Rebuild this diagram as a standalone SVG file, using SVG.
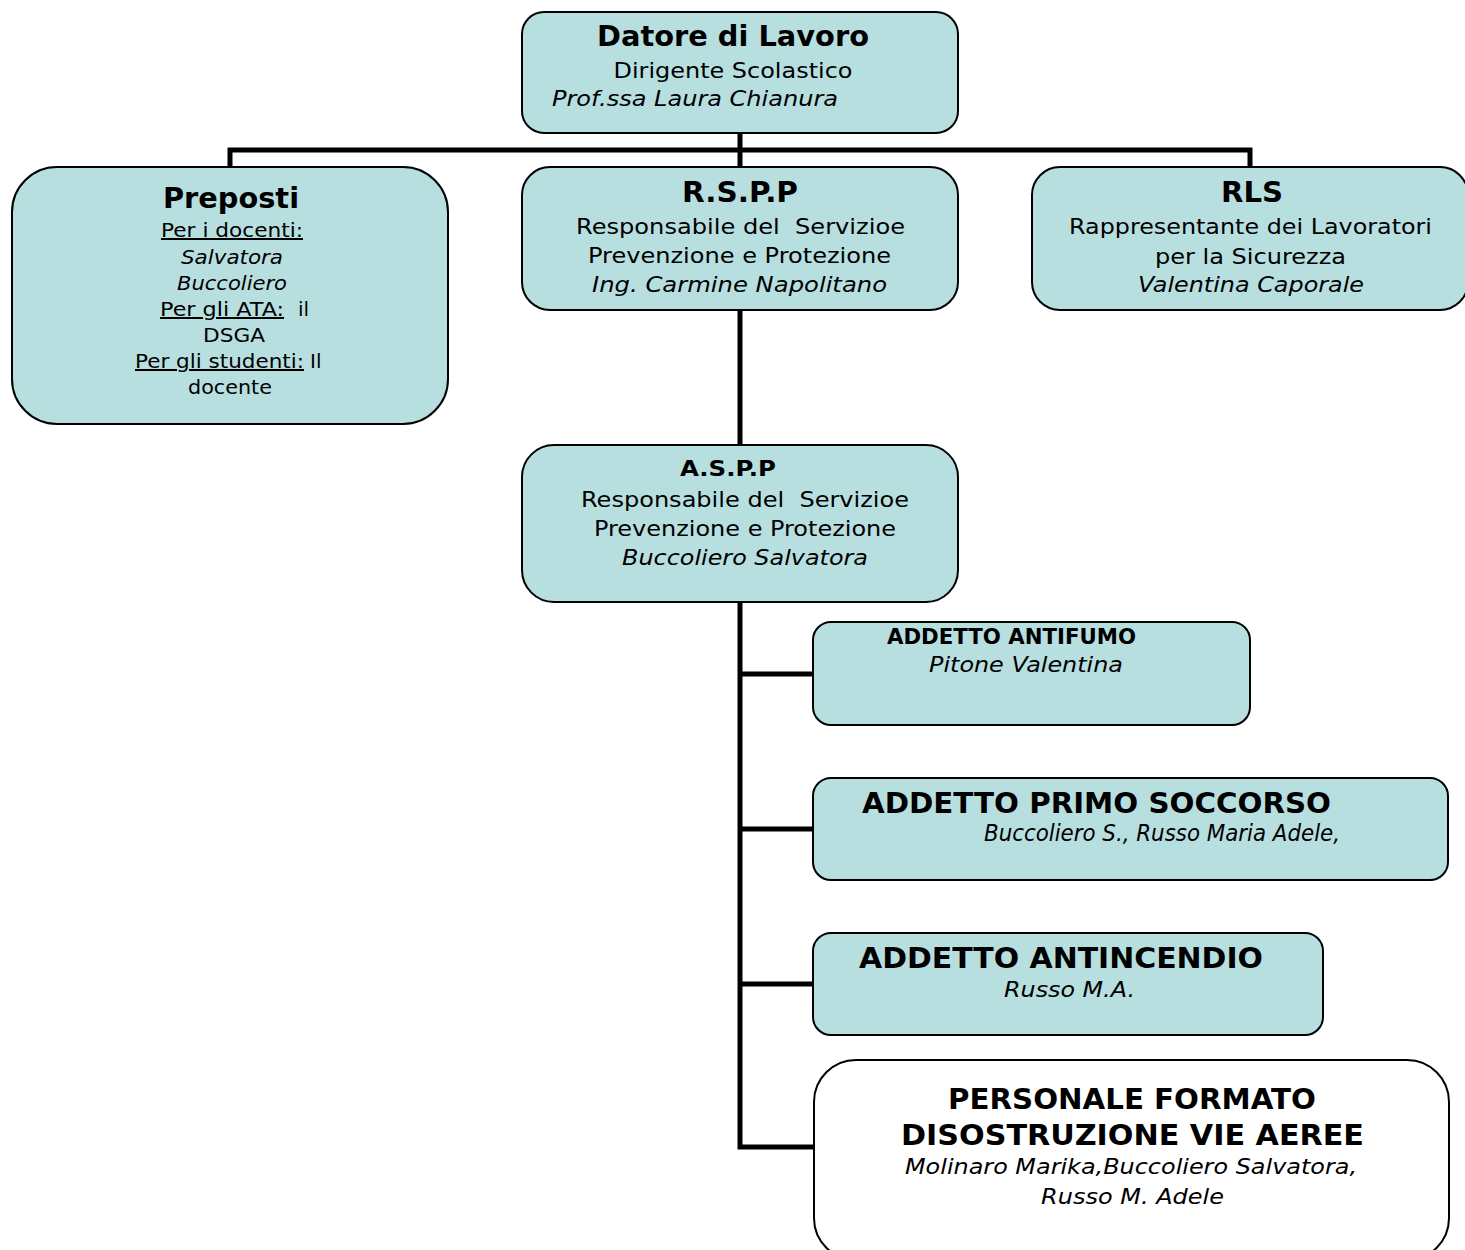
<svg xmlns="http://www.w3.org/2000/svg" width="1465" height="1250" viewBox="0 0 1465 1250">
<style>
.box{fill:#b8dfe0;stroke:#000;stroke-width:2}
.wbox{fill:#fff;stroke:#000;stroke-width:2}
.con{stroke:#000;stroke-width:5;fill:none;stroke-linecap:square}
text{font-family:"DejaVu Sans","Verdana",sans-serif;fill:#000}
.t{font-weight:bold;font-size:28px}
.n{font-size:22px}
.i{font-size:22px;font-style:italic}
.s{font-size:20px}
.si{font-size:20px;font-style:italic}
.u{text-decoration:underline}
</style>
<rect width="1465" height="1250" fill="#fff"/>
<g id="connectors">
<path class="con" d="M740 133V150M230 150H1250M230 150V167M740 150V167M1250 150V167"/>
<path class="con" d="M740 310V445"/>
<path class="con" d="M740 602V1147M740 674H812M740 829H812M740 984H812M740 1147H812"/>
</g>
<g id="datore">
<rect class="box" x="522" y="12" width="436" height="121" rx="22"/>
<text class="t" x="733" y="46" text-anchor="middle" textLength="272" lengthAdjust="spacingAndGlyphs">Datore di Lavoro</text>
<text class="n" x="733" y="78" text-anchor="middle" textLength="239" lengthAdjust="spacingAndGlyphs">Dirigente Scolastico</text>
<text class="i" x="552" y="106" textLength="286" lengthAdjust="spacingAndGlyphs">Prof.ssa Laura Chianura</text>
</g>
<g id="preposti">
<rect class="box" x="12" y="167" width="436" height="257" rx="45"/>
<text class="t" x="231" y="208" text-anchor="middle" textLength="136" lengthAdjust="spacingAndGlyphs">Preposti</text>
<text class="s u" x="161" y="237" textLength="142" lengthAdjust="spacingAndGlyphs">Per i docenti:</text>
<text class="si" x="232" y="264" text-anchor="middle" textLength="102" lengthAdjust="spacingAndGlyphs">Salvatora</text>
<text class="si" x="232" y="290" text-anchor="middle" textLength="110" lengthAdjust="spacingAndGlyphs">Buccoliero</text>
<text class="s" x="160" y="316"><tspan class="u" textLength="124" lengthAdjust="spacingAndGlyphs">Per gli ATA:</tspan></text>
<text class="s" x="298" y="316">il</text>
<text class="s" x="234" y="342" text-anchor="middle" textLength="62" lengthAdjust="spacingAndGlyphs">DSGA</text>
<text class="s" x="135" y="368"><tspan class="u" textLength="169" lengthAdjust="spacingAndGlyphs">Per gli studenti:</tspan></text>
<text class="s" x="310" y="368">Il</text>
<text class="s" x="230" y="394" text-anchor="middle" textLength="84" lengthAdjust="spacingAndGlyphs">docente</text>
</g>
<g id="rspp">
<rect class="box" x="522" y="167" width="436" height="143" rx="28"/>
<text class="t" x="740" y="202" text-anchor="middle" textLength="116" lengthAdjust="spacingAndGlyphs">R.S.P.P</text>
<text class="n" x="576" y="234" textLength="329" lengthAdjust="spacingAndGlyphs" xml:space="preserve">Responsabile del  Servizioe</text>
<text class="n" x="588" y="263" textLength="303" lengthAdjust="spacingAndGlyphs">Prevenzione e Protezione</text>
<text class="i" x="592" y="292" textLength="295" lengthAdjust="spacingAndGlyphs">Ing. Carmine Napolitano</text>
</g>
<g id="rls">
<rect class="box" x="1032" y="167" width="436" height="143" rx="28"/>
<text class="t" x="1252" y="202" text-anchor="middle" textLength="62" lengthAdjust="spacingAndGlyphs">RLS</text>
<text class="n" x="1069" y="234" textLength="363" lengthAdjust="spacingAndGlyphs">Rappresentante dei Lavoratori</text>
<text class="n" x="1155" y="264" textLength="191" lengthAdjust="spacingAndGlyphs">per la Sicurezza</text>
<text class="i" x="1138" y="292" textLength="226" lengthAdjust="spacingAndGlyphs">Valentina Caporale</text>
</g>
<g id="aspp">
<rect class="box" x="522" y="445" width="436" height="157" rx="32"/>
<text style="font-weight:bold;font-size:22px" x="680" y="476" textLength="96" lengthAdjust="spacingAndGlyphs">A.S.P.P</text>
<text class="n" x="581" y="507" textLength="328" lengthAdjust="spacingAndGlyphs" xml:space="preserve">Responsabile del  Servizioe</text>
<text class="n" x="594" y="536" textLength="302" lengthAdjust="spacingAndGlyphs">Prevenzione e Protezione</text>
<text class="i" x="622" y="565" textLength="246" lengthAdjust="spacingAndGlyphs">Buccoliero Salvatora</text>
</g>
<g id="antifumo">
<rect class="box" x="813" y="622" width="437" height="103" rx="18"/>
<text style="font-weight:bold;font-size:21px" x="887" y="644" textLength="249" lengthAdjust="spacingAndGlyphs">ADDETTO ANTIFUMO</text>
<text class="i" x="929" y="672" textLength="194" lengthAdjust="spacingAndGlyphs">Pitone Valentina</text>
</g>
<g id="primo-soccorso">
<rect class="box" x="813" y="778" width="635" height="102" rx="18"/>
<text class="t" x="862" y="813" textLength="469" lengthAdjust="spacingAndGlyphs">ADDETTO PRIMO SOCCORSO</text>
<text style="font-size:23px;font-style:italic" x="984" y="841" textLength="356" lengthAdjust="spacingAndGlyphs">Buccoliero S., Russo Maria Adele,</text>
</g>
<g id="antincendio">
<rect class="box" x="813" y="933" width="510" height="102" rx="18"/>
<text class="t" x="859" y="968" textLength="404" lengthAdjust="spacingAndGlyphs">ADDETTO ANTINCENDIO</text>
<text class="i" x="1004" y="997" textLength="131" lengthAdjust="spacingAndGlyphs">Russo M.A.</text>
</g>
<g id="disostruzione">
<rect class="wbox" x="814" y="1060" width="635" height="200" rx="42"/>
<text class="t" x="948" y="1109" textLength="368" lengthAdjust="spacingAndGlyphs">PERSONALE FORMATO</text>
<text class="t" x="901" y="1145" textLength="463" lengthAdjust="spacingAndGlyphs">DISOSTRUZIONE VIE AEREE</text>
<text class="i" x="905" y="1174" textLength="452" lengthAdjust="spacingAndGlyphs">Molinaro Marika,Buccoliero Salvatora,</text>
<text class="i" x="1041" y="1204" textLength="183" lengthAdjust="spacingAndGlyphs">Russo M. Adele</text>
</g>
</svg>
